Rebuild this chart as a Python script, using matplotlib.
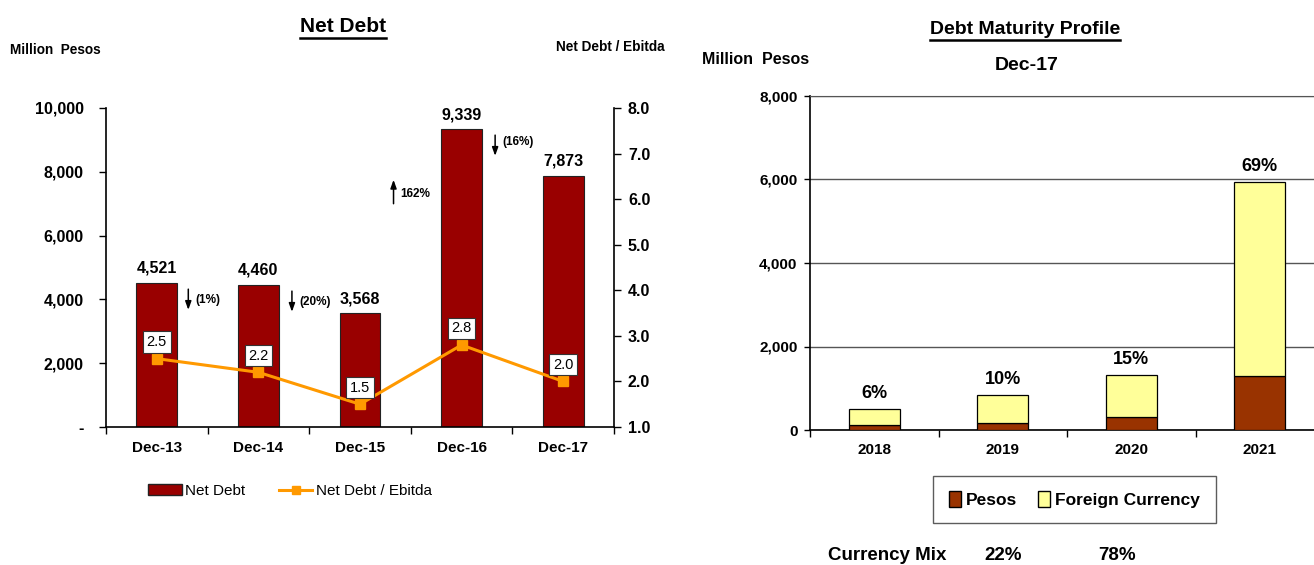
import matplotlib
matplotlib.use("Agg")
import matplotlib.pyplot as plt
from matplotlib.patches import Patch
from matplotlib.lines import Line2D
import numpy as np

plt.rcParams['font.family'] = ['Liberation Sans', 'DejaVu Sans']

# ---- Net Debt data ----
periods = ["Dec-13", "Dec-14", "Dec-15", "Dec-16", "Dec-17"]
net_debt = [4521, 4460, 3568, 9339, 7873]
debt_to_ebitda = [2.5, 2.2, 1.5, 2.8, 2.0]
yoy_change = ["(1%)", "(20%)", "162%", "(16%)"]
yoy_up = [False, False, True, False]

# ---- Debt maturity data (Dec-17) ----
years = ["2018", "2019", "2020", "2021"]
pesos = [110, 170, 300, 1300]
foreign = [393, 668, 1017, 4640]

BAR_RED = "#990000"
LINE_ORANGE = "#FF9900"
PESO_BROWN = "#993300"
FX_YELLOW = "#FFFF99"

W, H = 1314, 565
fig = plt.figure(figsize=(W / 100, H / 100), dpi=100)


def fx(px):
    return px / W


def fy(py):
    return 1 - py / H


# =================== Net Debt ===================
ax = fig.add_axes([fx(106), fy(427), fx(614) - fx(106), fy(108) - fy(427)])
x = np.arange(len(periods))
ax.bar(x, net_debt, width=0.4, color=BAR_RED, edgecolor="#222222", linewidth=0.8, zorder=2)
ax.set_xlim(-0.5, len(periods) - 0.5)
ax.set_ylim(0, 10000)
ax.set_yticks(np.arange(0, 10001, 2000))
ax.set_yticklabels(["-"] + [f"{v:,.0f}" for v in np.arange(2000, 10001, 2000)])
ax.set_xticks(x)
ax.set_xticklabels(periods)
ax.set_xticks(np.arange(-0.5, len(periods), 1), minor=True)
ax.tick_params(axis="x", which="major", length=0, pad=10)
ax.tick_params(axis="x", which="minor", length=5, width=1, direction="out")
ax.tick_params(axis="y", length=5, width=1, direction="out", pad=11)
for lab in ax.get_yticklabels():
    lab.set_fontweight("bold")
    lab.set_fontsize(11.5)
for lab in ax.get_xticklabels():
    lab.set_fontweight("bold")
    lab.set_fontsize(11)
for s in ["top", "right"]:
    ax.spines[s].set_visible(False)
for s in ["left", "bottom"]:
    ax.spines[s].set_linewidth(1.2)

for xi, v in zip(x, net_debt):
    ax.annotate(f"{v:,}", (xi, v), xytext=(0, 5), textcoords="offset points",
                ha="center", va="bottom", fontsize=11.5, fontweight="bold")

# year-over-year change arrows between bars
for i, (txt, up) in enumerate(zip(yoy_change, yoy_up)):
    ax_x = i + 0.31 if i < 1 else i + 0.33
    if up:
        y0, y1 = 7000, 7750
        ty = 7300
    else:
        y1 = net_debt[i] - 200 if i != 3 else 9150
        y0 = y1 - 650
        y0, y1 = y1, y0
        ty = (y0 + y1) / 2 + (120 if i == 3 else -20)
    ax.annotate("", xy=(ax_x, y1), xytext=(ax_x, y0),
                arrowprops=dict(arrowstyle="-|>,head_length=0.5,head_width=0.18",
                                color="black", lw=1.1, shrinkA=0, shrinkB=0))
    ax.text(ax_x + 0.07, ty, txt, fontsize=8.5, fontweight="bold", va="center", ha="left")

ax2 = ax.twinx()
ax2.plot(x, debt_to_ebitda, color=LINE_ORANGE, lw=2.2, marker="s", markersize=6.5, zorder=3)
ax2.set_ylim(1.0, 8.0)
ax2.set_yticks(np.arange(1, 8.01, 1))
ax2.set_yticklabels([f"{v:.1f}" for v in np.arange(1, 8.01, 1)])
ax2.tick_params(axis="y", length=5, width=1, direction="out", pad=5)
for lab in ax2.get_yticklabels():
    lab.set_fontweight("bold")
    lab.set_fontsize(11.5)
for s in ["top", "left", "bottom"]:
    ax2.spines[s].set_visible(False)
ax2.spines["right"].set_linewidth(1.2)
for xi, v in zip(x, debt_to_ebitda):
    ax2.annotate(f"{v:.1f}", (xi, v), xytext=(0, 12), textcoords="offset points",
                 ha="center", va="center", fontsize=10.5,
                 bbox=dict(boxstyle="square,pad=0.25", fc="white", ec="#333333", lw=0.8))

fig.text(fx(10), fy(50), "Million  Pesos", fontsize=9.8, fontweight="bold", va="center")
fig.text(fx(665), fy(47), "Net Debt / Ebitda", fontsize=9.8, fontweight="bold", va="center", ha="right")
t_left = fig.text(fx(343), fy(27), "Net Debt", fontsize=15, fontweight="bold", ha="center", va="center")

leg_handles = [Patch(facecolor=BAR_RED, edgecolor="#222222", linewidth=1),
               Line2D([0], [0], color=LINE_ORANGE, lw=2.2, marker="s", markersize=6)]
fig.legend(leg_handles, ["Net Debt", "Net Debt / Ebitda"], loc="center",
           bbox_to_anchor=(fx(290), fy(491)), ncol=2, frameon=False, fontsize=11,
           handlelength=2.2, handletextpad=0.2, columnspacing=2.2)

# =================== Debt Maturity Profile ===================
bx = fig.add_axes([fx(810), fy(430), fx(1324) - fx(810), fy(96) - fy(430)])
xm = np.arange(len(years))
totals = np.array(pesos) + np.array(foreign)
bx.bar(xm, pesos, width=0.4, color=PESO_BROWN, edgecolor="black", linewidth=0.9, zorder=3)
bx.bar(xm, foreign, bottom=pesos, width=0.4, color=FX_YELLOW, edgecolor="black", linewidth=0.9, zorder=3)
bx.set_xlim(-0.5, len(years) - 0.5)
bx.set_ylim(0, 8000)
bx.set_yticks(np.arange(0, 8001, 2000))
bx.set_yticklabels([f"{v:,.0f}" for v in np.arange(0, 8001, 2000)])
bx.yaxis.grid(True, color="#555555", lw=1, zorder=0)
bx.set_xticks(xm)
bx.set_xticklabels(years)
bx.set_xticks(np.arange(-0.5, len(years), 1), minor=True)
bx.tick_params(axis="x", which="major", length=0, pad=9)
bx.tick_params(axis="x", which="minor", length=5, width=1, direction="out")
bx.tick_params(axis="y", length=4, width=1, direction="out", pad=5)
for lab in bx.get_xticklabels() + bx.get_yticklabels():
    lab.set_fontweight("bold")
    lab.set_fontsize(11)
bx.spines["right"].set_visible(False)
bx.spines["top"].set_color("#555555")
bx.spines["left"].set_linewidth(1.2)
bx.spines["bottom"].set_linewidth(1.2)

grand_total = totals.sum()
for xi, t in zip(xm, totals):
    bx.annotate(f"{100 * t / grand_total:.0f}%", (xi, t), xytext=(0, 5), textcoords="offset points",
                ha="center", va="bottom", fontsize=13, fontweight="bold")

t_right = fig.text(fx(1025), fy(30), "Debt Maturity Profile", fontsize=14, fontweight="bold",
                   ha="center", va="center")
fig.text(fx(1027), fy(65), "Dec-17", fontsize=14, fontweight="bold", ha="center", va="center")
fig.text(fx(702), fy(59), "Million  Pesos", fontsize=11.5, fontweight="bold", va="center")

leg2 = fig.legend([Patch(facecolor=PESO_BROWN, edgecolor="black"),
                   Patch(facecolor=FX_YELLOW, edgecolor="black")],
                  ["Pesos", "Foreign Currency"], loc="center",
                  bbox_to_anchor=(fx(1074.5), fy(499.5)), ncol=2,
                  prop=dict(weight="bold", size=12.5), fancybox=False, edgecolor="#333333",
                  handlelength=0.7, handleheight=1.0, handletextpad=0.3, columnspacing=1.2,
                  borderpad=0.9)
leg2.get_frame().set_linewidth(1.0)

peso_share = 100 * sum(pesos) / grand_total
fig.text(fx(828), fy(556), "Currency Mix", fontsize=13.5, fontweight="bold", va="center")
fig.text(fx(1003), fy(556), f"{peso_share:.0f}%", fontsize=13.5, fontweight="bold", va="center", ha="center")
fig.text(fx(1117), fy(556), f"{100 - peso_share:.0f}%", fontsize=13.5, fontweight="bold", va="center", ha="center")

# underline the two titles
fig.canvas.draw()
renderer = fig.canvas.get_renderer()
for t in (t_left, t_right):
    bb = t.get_window_extent(renderer).transformed(fig.transFigure.inverted())
    fig.add_artist(Line2D([bb.x0, bb.x1], [bb.y0 - 0.002, bb.y0 - 0.002],
                          transform=fig.transFigure, color="black", lw=1.8))

fig.savefig("out.png", dpi=100)
